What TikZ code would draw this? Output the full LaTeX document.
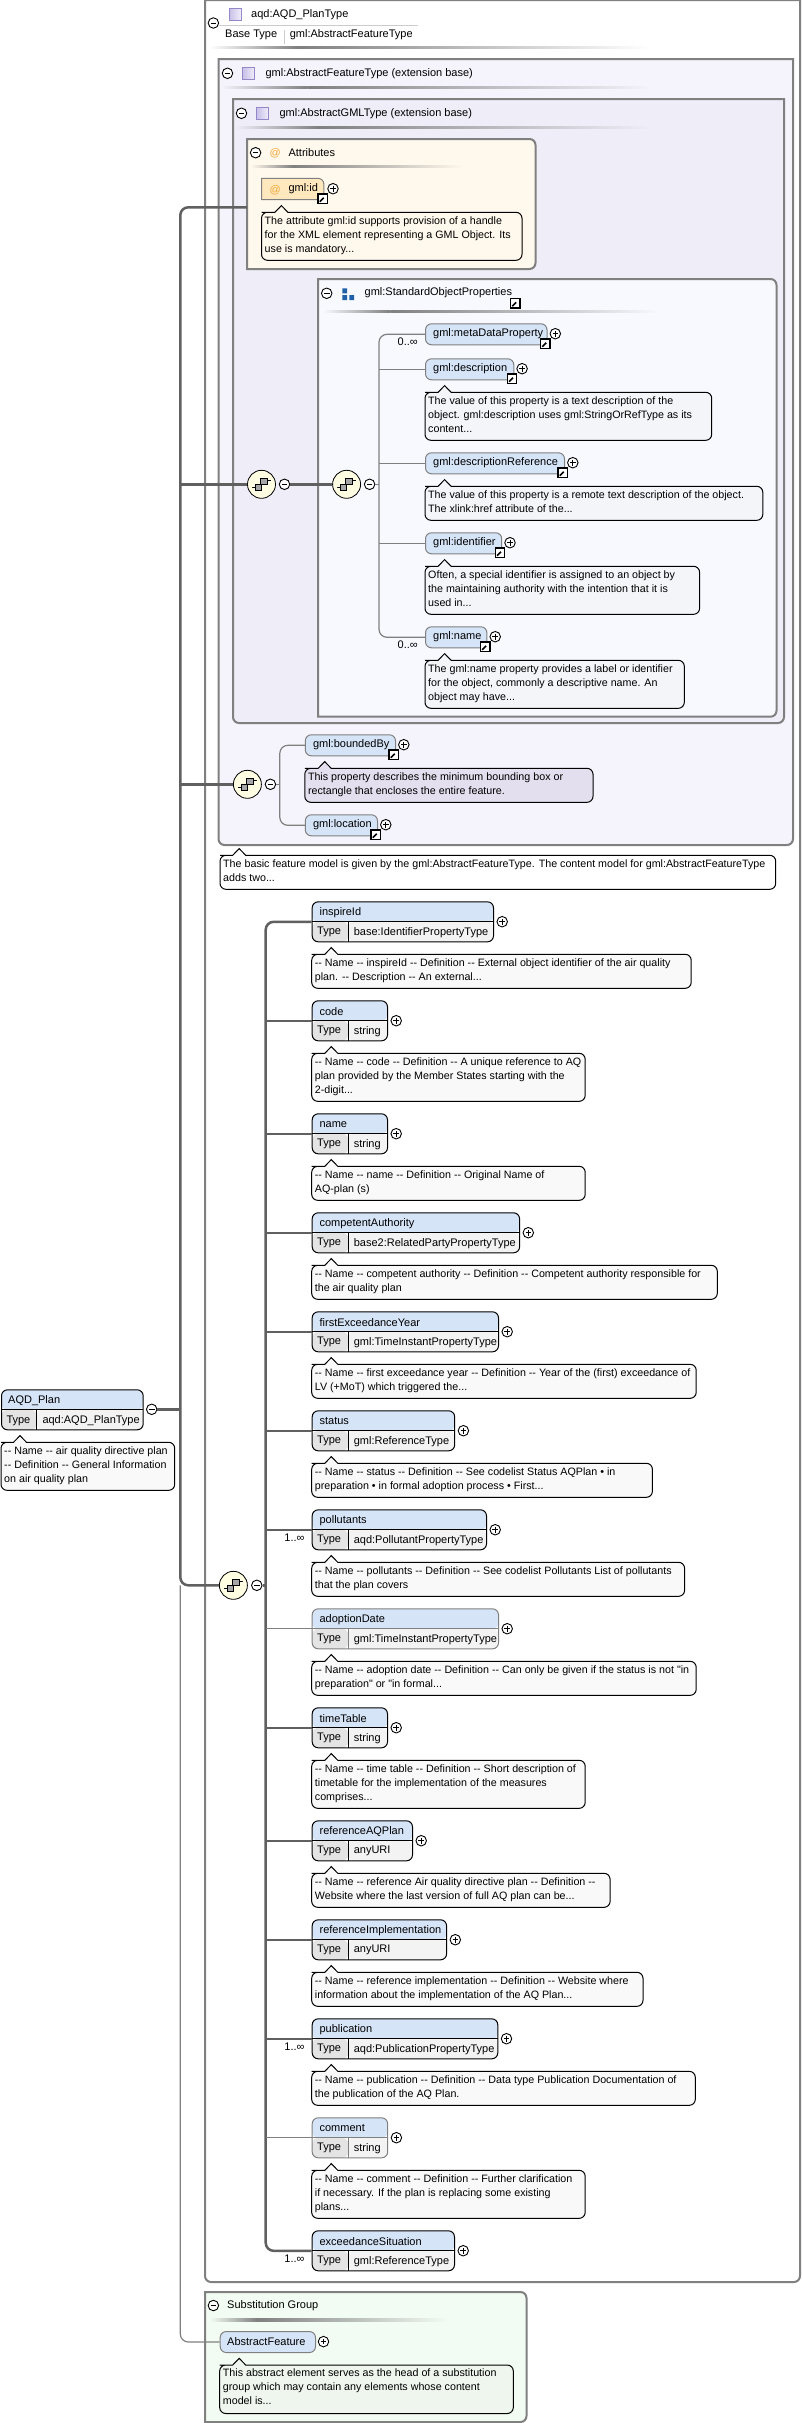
\documentclass[tikz,border=0pt]{standalone}
\usepackage{fontspec}
\setmainfont{Liberation Sans}[Ligatures=TeXOff]
\usetikzlibrary{positioning}
\definecolor{framegray}{RGB}{128,128,128}
\definecolor{lineDark}{RGB}{96,96,96}
\definecolor{headblue}{RGB}{214,228,247}
\definecolor{cellgray}{RGB}{228,228,228}
\definecolor{cellval}{RGB}{243,243,243}
\definecolor{notefill}{RGB}{249,249,249}
\definecolor{notecool}{RGB}{243,245,249}
\definecolor{notelilac}{RGB}{227,223,238}
\definecolor{notegreen}{RGB}{238,246,238}
\definecolor{notecream}{RGB}{255,248,236}
\definecolor{seqfill}{RGB}{255,253,226}
\definecolor{featfill}{RGB}{245,243,251}
\definecolor{gmlfill}{RGB}{239,237,247}
\definecolor{stdfill}{RGB}{248,249,254}
\definecolor{subfill}{RGB}{243,252,243}
\definecolor{atorange}{RGB}{240,170,60}
\definecolor{atfill}{RGB}{255,232,190}
\definecolor{groupblue}{RGB}{32,96,168}
\definecolor{iconedge}{RGB}{150,135,200}
\definecolor{iconleft}{RGB}{200,192,232}
\definecolor{iconright}{RGB}{240,238,250}
\tikzset{
    frame/.style={draw=framegray, line width=2pt},
    lbl/.style={anchor=west, inner sep=0pt, font=\fontsize{11}{14}\selectfont},
    notetxt/.style={anchor=north west, inner sep=0pt, align=left, font=\fontsize{10.7}{14}\selectfont},
    note/.style={draw=black, line width=1pt, rounded corners=6pt},
    plusicon/.style={circle, draw=black, line width=.9pt, fill=white, minimum size=10.5pt, inner sep=0pt,
        path picture={\draw[line width=.9pt] (-2.8,0) -- (2.8,0) (0,-2.8) -- (0,2.8);}},
    minusicon/.style={circle, draw=black, line width=.9pt, fill=white, minimum size=10.5pt, inner sep=0pt,
        path picture={\draw[line width=.9pt] (-2.8,0) -- (2.8,0);}},
    linkicon/.style={rectangle, draw=black, line width=1.2pt, fill=white, minimum size=9.5pt, inner sep=0pt,
        path picture={\draw[line width=1.6pt] (-3,3) -- (1,-1);
            \fill (3.4,-3.4) -- (-1.2,-3.4) -- (3.4,1.2) -- cycle;}},
    typeicon/.style={rectangle, draw=iconedge, left color=iconleft, right color=iconright, minimum size=12pt, inner sep=0pt},
    seqicon/.style={circle, draw=black, line width=.8pt, fill=seqfill, minimum size=28pt, inner sep=0pt,
        path picture={
            \draw[fill=gray!70, line width=.7pt] (-1.5,-6) rectangle (5.5,.5);
            \draw[fill=gray!70, line width=.7pt] (-6,0) rectangle (0,6);
            \draw[line width=.7pt] (-10,3.5) -- (-6,3.5) (5.5,-3.5) -- (10,-3.5);
            \fill (-11,2.5) rectangle (-9.5,4.5) (9.5,-4.5) rectangle (11,-2.5);}},
    bigline/.style={draw=lineDark, line width=2.5pt},
    thinline/.style={draw=framegray, line width=1.2pt},
    reqbox/.style={draw=black, line width=1pt},
    optbox/.style={draw=framegray, line width=1pt},
    refbox/.style={rectangle, rounded corners=6pt, draw=framegray, line width=1pt, fill=headblue, inner sep=0pt, minimum height=21pt, anchor=north west},
    typebox/.style={rounded corners=6pt, anchor=north west, inner sep=0pt, minimum height=40pt,
        path picture={
            \fill[headblue] (path picture bounding box.north west) rectangle (path picture bounding box.east);
            \fill[cellgray] (path picture bounding box.west) rectangle ([xshift=#1]path picture bounding box.south west);
            \fill[cellval] ([xshift=#1]path picture bounding box.west) rectangle (path picture bounding box.south east);
            \draw[line width=1pt] (path picture bounding box.west) -- (path picture bounding box.east);
            \draw[line width=1pt] ([xshift=#1]path picture bounding box.west) -- ([xshift=#1]path picture bounding box.south west);
        }},
}
\begin{document}
\begin{tikzpicture}[x=1pt, y=-1pt]
    \useasboundingbox (0,0) rectangle (801,2423);
    % nested frames
    \draw[frame, fill=white] (205,0) -- (800,0) [rounded corners=6pt] -- (800,2282) -- (205,2282) [sharp corners] -- cycle;
    \draw[frame, fill=featfill] (218.5,59) -- (793,59) [rounded corners=6pt] -- (793,845) -- (218.5,845) [sharp corners] -- cycle;
    \draw[frame, fill=gmlfill] (233,99) -- (784,99) [rounded corners=6pt] -- (784,723) -- (233,723) [sharp corners] -- cycle;
    \draw[frame, fill=notecream] (247,139) [rounded corners=6pt] -- (535.5,139) -- (535.5,269) [sharp corners] -- (247,269) -- cycle;
    \draw[frame, fill=stdfill] (318,279) [rounded corners=6pt] -- (776.5,279) -- (776.5,716.7) [sharp corners] -- (318,716.7) -- cycle;
    \draw[frame, fill=subfill] (205,2292) [rounded corners=6pt] -- (526.5,2292) -- (526.5,2422) [sharp corners] -- (205,2422) -- cycle;

    % header rules, dark near the start and fading out
    \foreach \xa/\xb/\yy/\bg in {209/650/47.7/white, 221/653/87.7/featfill, 235/651/127.7/gmlfill, 250.5/463/166.7/notecream, 323/660/311.7/stdfill, 209.5/447.7/2319.8/subfill} {
        \shade[left color=\bg, right color=framegray] (\xa,\yy-1.2) rectangle ({\xa+.2*(\xb-\xa)},\yy+1.2);
        \shade[left color=framegray, right color=\bg] ({\xa+.2*(\xb-\xa)},\yy-1.2) rectangle (\xb,\yy+1.2);
    }

    % header titles
    \node[typeicon] (planTypeIcon) at (235,14.5) {};
    \node[lbl] (planTypeLbl) at (251,14.5) {aqd:AQD\_PlanType};
    \node[minusicon] (planTypeMinus) at (213.4,23) {};
    \draw[draw=gray!40, line width=1pt] (219,25) -- (418,25);
    \node[lbl] (baseTypeLbl) at (225,35) {Base Type};
    \draw[draw=gray!40, line width=1pt] (284,30) -- (284,44);
    \node[lbl] (baseTypeVal) at (289.6,35) {gml:AbstractFeatureType};
    \node[minusicon] (featMinus) at (227.5,73.3) {};
    \node[typeicon] (featIcon) at (248.6,73.3) {};
    \node[lbl] (featLbl) at (265.4,73.3) {gml:AbstractFeatureType (extension base)};
    \node[minusicon] (gmlMinus) at (241.5,113.3) {};
    \node[typeicon] (gmlIcon) at (262.6,113.3) {};
    \node[lbl] (gmlLbl) at (279.4,113.3) {gml:AbstractGMLType (extension base)};
    \node[minusicon] (attrMinus) at (255.6,152.7) {};
    \node[lbl, text=atorange] (attrAt) at (269.5,153) {@};
    \node[lbl] (attrLbl) at (288.4,153) {Attributes};
    \node[minusicon] (stdMinus) at (326.7,293.3) {};
    \fill[groupblue] (342.3,288.3) rectangle (347,293.3) (342.3,295) rectangle (347,300) (349.3,295) rectangle (354,300);
    \node[lbl] (stdLbl) at (364.5,293) {gml:StandardObjectProperties};
    \node[linkicon] (stdLink) at (515.3,303.3) {};
    \node[minusicon] (subMinus) at (213.4,2305.5) {};
    \node[lbl] (subLbl) at (227,2306) {Substitution Group};

    % gml:id attribute
    \node[anchor=north west, inner sep=0pt, minimum width=62pt, minimum height=21pt] (gmlId) at (261.5,178.3) {};
    \draw[draw=framegray, line width=1pt, fill=atfill] (gmlId.north west) [rounded corners=6pt] -- (gmlId.north east) [sharp corners] -- (gmlId.south east) -- (gmlId.south west) -- cycle;
    \node[lbl, text=atorange] (gmlIdAt) at (269.5,190) {@};
    \node[lbl] (gmlIdLbl) at (288.4,189) {gml:id};
    \node[plusicon] (gmlIdPlus) at (333,188.7) {};
    \node[linkicon] (gmlIdLink) at (322.8,198.7) {};

    % the referenced elements
    \foreach \nm/\txt/\yt/\xl/\xr in {metaData/gml:metaDataProperty/323.3/425/546.5, description/gml:description/358.3/425/513.3, descRef/gml:descriptionReference/452.3/425/564, identifier/gml:identifier/532.3/425/501.2, gmlName/gml:name/626.3/425/486.4, boundedBy/gml:boundedBy/734.3/304.8/395, location/gml:location/814.3/304.8/377} {
        \node[refbox, minimum width={(\xr-\xl)*1pt}] (\nm) at (\xl,\yt) {};
        \node[lbl] (\nm Lbl) at (\xl+8,\yt+10.5) {\txt};
        \node[plusicon] (\nm Plus) at (\xr+8.8,\yt+10.4) {};
        \node[linkicon] (\nm Link) at (\xr-1.2,\yt+20.4) {};
    }
    \node[refbox, minimum width=95.3pt] (abstractFeature) at (219.7,2331) {};
    \node[lbl] (abstractFeatureLbl) at (227,2341.6) {AbstractFeature};
    \node[plusicon] (abstractFeaturePlus) at (323.5,2341.6) {};

    % the elements with a type row
    \foreach \nm/\tp/\yt/\xr/\kind in {inspireId/base:IdentifierPropertyType/901.3/493/req, code/string/1000.3/387/req, name/string/1113.3/387/req, competentAuthority/base2:RelatedPartyPropertyType/1212.3/519.1/req, firstExceedanceYear/gml:TimeInstantPropertyType/1311.3/498/req, status/gml:ReferenceType/1410.3/454.2/req, pollutants/aqd:PollutantPropertyType/1509.3/486/req, adoptionDate/gml:TimeInstantPropertyType/1608.3/498/opt, timeTable/string/1707.3/387/req, referenceAQPlan/anyURI/1820.3/412/req, referenceImplementation/anyURI/1919.3/446.1/req, publication/aqd:PublicationPropertyType/2018.3/497.3/req, comment/string/2117.3/387.2/opt, exceedanceSituation/gml:ReferenceType/2230.3/454/req} {
        \node[\kind box, typebox=36pt, minimum width={(\xr-311.7)*1pt}] (\nm) at (311.7,\yt) {};
        \node[lbl] (\nm Lbl) at (319.4,\yt+11) {\nm};
        \node[lbl] (\nm Key) at (317,\yt+31) {Type};
        \node[lbl] (\nm Val) at (353.6,\yt+31) {\tp};
        \node[plusicon] (\nm Plus) at (\xr+9.2,\yt+20.4) {};
    }
    \node[reqbox, typebox=35.3pt, minimum width=141.7pt] (plan) at (1,1389.3) {};
    \node[lbl] (planLbl) at (8,1400.3) {AQD\_Plan};
    \node[lbl] (planKey) at (6.3,1420.5) {Type};
    \node[lbl] (planVal) at (42.3,1420.5) {aqd:AQD\_PlanType};
    \node[minusicon] (planMinus) at (151.7,1409.3) {};

    % notes: tail x, box left, top, right, bottom, fill, text
    \foreach \tl/\xl/\yt/\xr/\yb/\col/\txt [count=\n] in {
        20/1/1442.3/174.7/1490.3/notefill/{-- Name -- air quality directive plan\\-- Definition -- General Information\\on air quality plan},
        281.4/261.5/212.3/522/260.3/notecream/{The attribute gml:id supports provision of a handle\\for the XML element representing a GML Object. Its\\use is mandatory...},
        444.6/425/392.3/711.7/440.3/notecool/{The value of this property is a text description of the\\object. gml:description uses gml:StringOrRefType as its\\content...},
        444.6/425/486.3/762.8/520.3/notecool/{The value of this property is a remote text description of the object.\\The xlink:href attribute of the...},
        444.6/425/566.3/699.6/614.3/notecool/{Often, a special identifier is assigned to an object by\\the maintaining authority with the intention that it is\\used in...},
        444.6/425/660.3/684.3/708.3/notecool/{The gml:name property provides a label or identifier\\for the object, commonly a descriptive name. An\\object may have...},
        324.7/304.8/768.3/593/802.3/notelilac/{This property describes the minimum bounding box or\\rectangle that encloses the entire feature.},
        239.2/220/855.3/775.7/889.3/white/{The basic feature model is given by the gml:AbstractFeatureType. The content model for gml:AbstractFeatureType\\adds two...},
        331.3/311.7/954.3/691.2/988.3/notefill/{-- Name -- inspireId -- Definition -- External object identifier of the air quality\\plan. -- Description -- An external...},
        331.3/311.7/1053.3/585.2/1101.3/notefill/{-- Name -- code -- Definition -- A unique reference to AQ\\plan provided by the Member States starting with the\\2-digit...},
        331.3/311.7/1166.3/585.2/1200.3/notefill/{-- Name -- name -- Definition -- Original Name of\\AQ-plan (s)},
        331.3/311.7/1265.3/717.3/1299.3/notefill/{-- Name -- competent authority -- Definition -- Competent authority responsible for\\the air quality plan},
        331.3/311.7/1364.3/696.2/1398.3/notefill/{-- Name -- first exceedance year -- Definition -- Year of the (first) exceedance of\\LV (+MoT) which triggered the...},
        331.3/311.7/1463.3/652.4/1497.3/notefill/{-- Name -- status -- Definition -- See codelist Status AQPlan • in\\preparation • in formal adoption process • First...},
        331.3/311.7/1562.3/684.6/1596.3/notefill/{-- Name -- pollutants -- Definition -- See codelist Pollutants List of pollutants\\that the plan covers},
        331.3/311.7/1661.3/696.2/1695.3/notefill/{-- Name -- adoption date -- Definition -- Can only be given if the status is not "in\\preparation" or "in formal...},
        331.3/311.7/1760.3/585.2/1808.3/notefill/{-- Name -- time table -- Definition -- Short description of\\timetable for the implementation of the measures\\comprises...},
        331.3/311.7/1873.3/610.1/1907.3/notefill/{-- Name -- reference Air quality directive plan -- Definition --\\Website where the last version of full AQ plan can be...},
        331.3/311.7/1972.3/643/2006.3/notefill/{-- Name -- reference implementation -- Definition -- Website where\\information about the implementation of the AQ Plan...},
        331.3/311.7/2071.3/695.3/2105.3/notefill/{-- Name -- publication -- Definition -- Data type Publication Documentation of\\the publication of the AQ Plan.},
        331.3/311.7/2170.3/585.2/2218.3/notefill/{-- Name -- comment -- Definition -- Further clarification\\if necessary. If the plan is replacing some existing\\plans...},
        239.2/219.7/2365/513.3/2413.5/notegreen/{This abstract element serves as the head of a substitution\\group which may contain any elements whose content\\model is...}} {
        \draw[note, fill=\col] (\xl+6,\yt) [sharp corners] -- (\tl-6.5,\yt) -- (\tl,\yt-6.7) -- (\tl+6.5,\yt) [rounded corners=6pt] -- (\xr,\yt) -- (\xr,\yb) -- (\xl,\yb) -- (\xl,\yt) -- cycle;
        \node[notetxt] (note\n) at (\xl+3,\yt+4) {\txt};
    }

    % the connectors of the left trunk
    \node[seqicon] (seqGml) at (261.5,484.3) {};
    \node[minusicon] (seqGmlMinus) at (284.5,484.3) {};
    \node[seqicon] (seqStd) at (346.6,484.3) {};
    \node[minusicon] (seqStdMinus) at (369.6,484.3) {};
    \node[seqicon] (seqFeat) at (247.4,784.3) {};
    \node[minusicon] (seqFeatMinus) at (270.4,784.3) {};
    \node[seqicon] (seqPlan) at (233.4,1585.3) {};
    \node[minusicon] (seqPlanMinus) at (256.8,1585.3) {};
    \coordinate (attrIn) at (247,207.3);
    \coordinate (trunk) at (180.3,1409.3);
    \coordinate (planTrunk) at (265.7,1585.3);
    \coordinate (stdTrunk) at (379,484.3);
    \coordinate (featTrunk) at (279.8,784.3);
    \draw[bigline] (planMinus) -- (trunk);
    \draw[bigline, rounded corners=8pt] (attrIn) -- (trunk |- attrIn) -- (trunk |- seqPlan) -- (seqPlan);
    \draw[thinline, rounded corners=8pt] (trunk |- seqPlan) -- (trunk |- abstractFeature) -- (abstractFeature);
    \draw[bigline] (trunk |- seqGml) -- (seqGml);
    \draw[bigline] (trunk |- seqFeat) -- (seqFeat);
    \draw[bigline] (seqGmlMinus) -- (seqStd);
    \draw[thinline] (seqStdMinus) -- (stdTrunk);
    \draw[thinline] (seqFeatMinus) -- (featTrunk);
    \draw[bigline] (seqPlanMinus) -- (planTrunk);
    \draw[thinline, rounded corners=8pt] (metaData) -- (stdTrunk |- metaData) -- (stdTrunk |- gmlName) -- (gmlName);
    \foreach \nm in {description,descRef,identifier}
        \draw[thinline] (stdTrunk |- \nm) -- (\nm);
    \draw[thinline, rounded corners=8pt] (boundedBy) -- (featTrunk |- boundedBy) -- (featTrunk |- location) -- (location);
    \draw[bigline, rounded corners=8pt] (inspireId) -- (planTrunk |- inspireId) -- (planTrunk |- exceedanceSituation) -- (exceedanceSituation);
    \foreach \nm in {code,name,competentAuthority,firstExceedanceYear,status,pollutants,timeTable,referenceAQPlan,referenceImplementation,publication}
        \draw[bigline] (planTrunk |- \nm) -- (\nm);
    \foreach \nm in {adoptionDate,comment}
        \draw[thinline] (planTrunk |- \nm) -- (\nm);

    % the occurrence labels
    \foreach \nm/\lo in {metaData/0, gmlName/0, pollutants/1, publication/1, exceedanceSituation/1} {
        \node[lbl, anchor=east] (\nm Occ) at ([xshift=-7pt,yshift=-7.5pt]\nm.west) {\lo..∞};
    }
\end{tikzpicture}
\end{document}
